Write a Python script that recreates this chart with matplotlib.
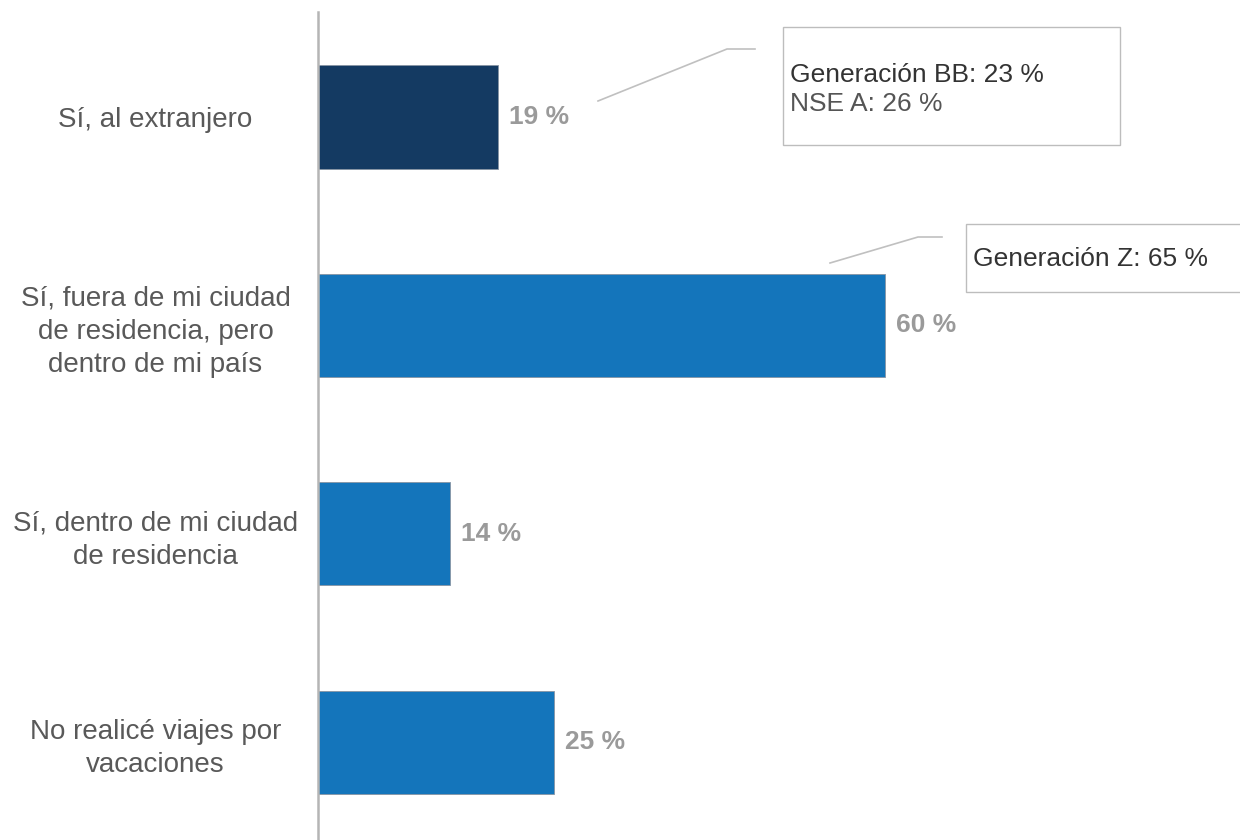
"""
Viajes por vacaciones: barras horizontales con notas de segmento.
"""

import matplotlib
matplotlib.use("Agg")
import matplotlib.pyplot as plt
from matplotlib.patches import Rectangle
from matplotlib.lines import Line2D


CATEGORIES = [
    "Sí, al extranjero",
    "Sí, fuera de mi ciudad\nde residencia, pero\ndentro de mi país",
    "Sí, dentro de mi ciudad\nde residencia",
    "No realicé viajes por\nvacaciones",
]
VALUES = [19, 60, 14, 25]
VALUE_LABELS = ["19 %", "60 %", "14 %", "25 %"]
BAR_COLORS = ["#143a62", "#1475bb", "#1475bb", "#1475bb"]

NOTE_BB = ["Generación BB: 23 %", "NSE A: 26 %"]
NOTE_Z = "Generación Z: 65 %"

W, H = 1240, 840
FONT = ["Liberation Sans", "DejaVu Sans"]


def px(x, y):
    # Pixelkoordinaten (von oben) -> Figure-Anteil
    return x / W, 1 - y / H


def main() -> None:
    plt.rcParams["font.family"] = FONT

    fig = plt.figure(figsize=(12.4, 8.4), dpi=100)
    ax_left, ax_top, ax_bottom = 318, 12, 840
    ax = fig.add_axes([ax_left / W, 1 - ax_bottom / H, (W - ax_left) / W, (ax_bottom - ax_top) / H])

    y = list(range(len(CATEGORIES)))
    ax.barh(y, VALUES, height=0.495, color=BAR_COLORS, edgecolor="#8794a3", linewidth=0.6)
    ax.set_xlim(0, (W - ax_left) / 9.45)
    ax.set_ylim(3.47, -0.504)

    for yi, v, lab in zip(y, VALUES, VALUE_LABELS):
        ax.annotate(lab, (v, yi), xytext=(8, 0), textcoords="offset points",
                    va="center", ha="left", fontsize=19, color="#9a9a9a", fontweight="bold")

    ax.set_yticks(y, labels=CATEGORIES)
    for t in ax.get_yticklabels():
        t.set_ha("center")
        t.set_multialignment("center")
        t.set_linespacing(1.37)
    ax.tick_params(axis="y", length=0, pad=117, labelsize=20, labelcolor="#595959")
    ax.set_xticks([])

    for s in ["top", "right", "bottom"]:
        ax.spines[s].set_visible(False)
    ax.spines["left"].set_color("#b5b5b5")
    ax.spines["left"].set_linewidth(1.8)

    # Notas
    for (x0, y0, x1, y1) in [(783, 27, 1120, 145), (966, 224, 1245, 292)]:
        fx0, fy1 = px(x0, y1)
        fx1, fy0 = px(x1, y0)
        fig.patches.append(Rectangle((fx0, fy1), fx1 - fx0, fy0 - fy1, transform=fig.transFigure,
                                     facecolor="white", edgecolor="#bdbdbd", linewidth=1.0))

    for pts in [[(598, 101), (727, 49), (755, 49)], [(830, 263), (918, 237), (942, 237)]]:
        xs = [px(a, b)[0] for a, b in pts]
        ys = [px(a, b)[1] for a, b in pts]
        fig.lines.append(Line2D(xs, ys, transform=fig.transFigure, color="#c0c0c0", linewidth=1.2))

    fig.text(*px(790, 75), NOTE_BB[0], fontsize=19, color="#333333", va="center", ha="left")
    fig.text(*px(790, 104), NOTE_BB[1], fontsize=19, color="#555555", va="center", ha="left")
    fig.text(*px(973, 259), NOTE_Z, fontsize=19, color="#333333", va="center", ha="left")

    fig.savefig("out.png", dpi=100)
    plt.close(fig)


if __name__ == "__main__":
    main()
